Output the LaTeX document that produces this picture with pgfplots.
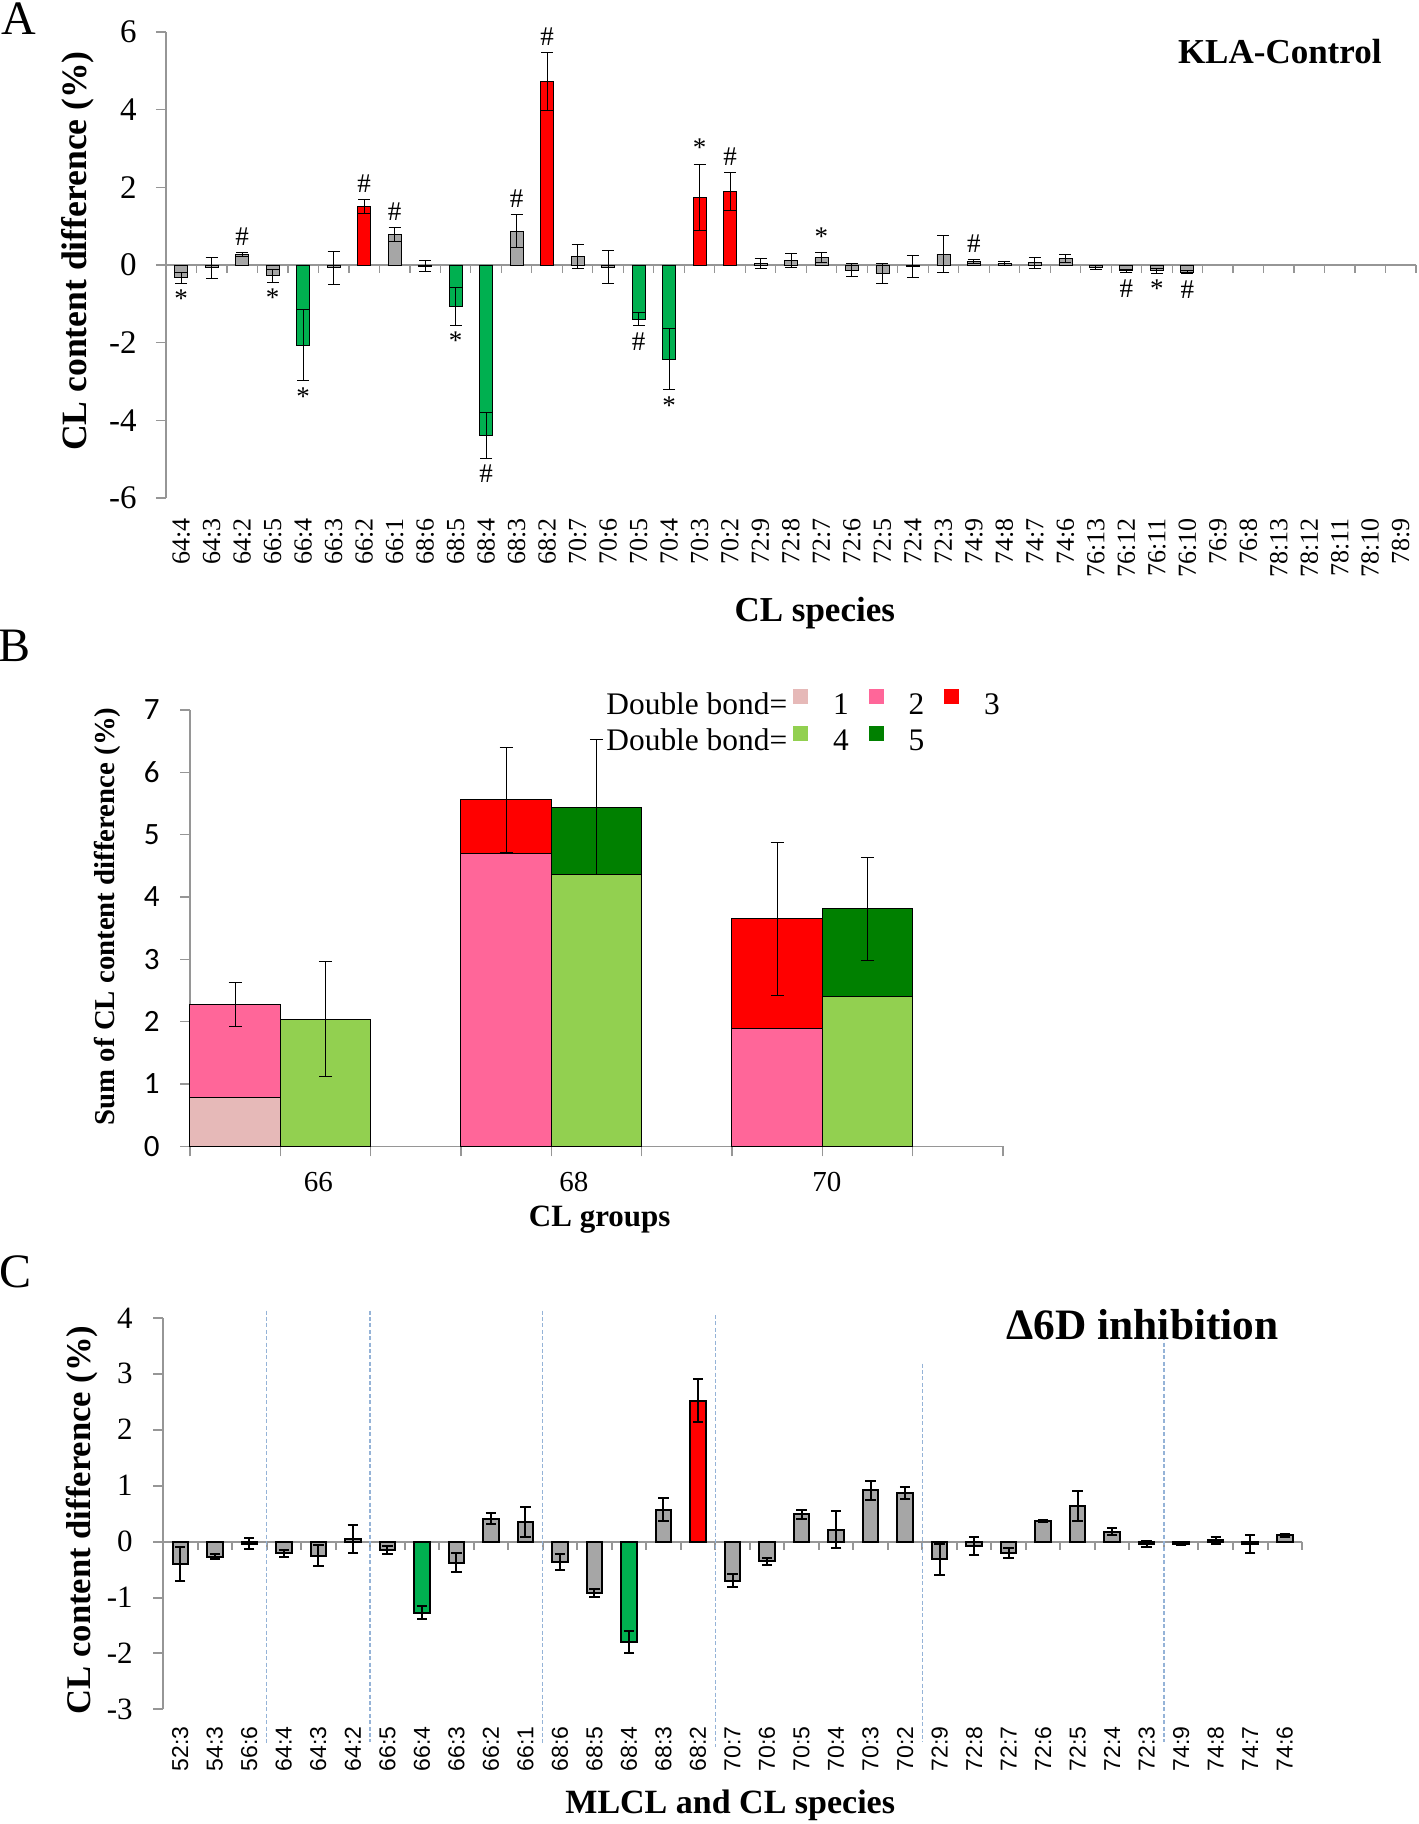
\documentclass[border=0pt]{standalone}
\usepackage{pgfplots}
\usepackage{pgfplotstable}
\pgfplotsset{compat=1.18}
\usepackage{fontspec}
\setmainfont{Liberation Serif}
\newfontfamily\calibri{Carlito}
\newfontfamily\arialf{Liberation Sans}
\definecolor{axgray}{RGB}{150,150,150}
\definecolor{bgray}{RGB}{166,166,166}
\definecolor{bgreen}{RGB}{0,176,80}
\definecolor{bred}{RGB}{255,0,0}
\definecolor{dbone}{RGB}{230,185,184}
\definecolor{dbtwo}{RGB}{255,102,153}
\definecolor{dbthree}{RGB}{255,0,0}
\definecolor{dbfour}{RGB}{146,208,80}
\definecolor{dbfive}{RGB}{0,128,0}
\definecolor{sepblue}{RGB}{149,179,215}
\newcommand{\fs}[1]{\fontsize{#1}{#1}\selectfont}

% ---------- Panel A data ----------
\pgfplotstableread{
x y e
0 -0.33 0.14
1 -0.07 0.27
2 0.28 0.05
3 -0.28 0.16
5 -0.07 0.42
7 0.79 0.18
8 -0.03 0.15
11 0.87 0.42
13 0.22 0.30
14 -0.05 0.43
19 0.04 0.13
20 0.11 0.18
21 0.19 0.13
22 -0.13 0.17
23 -0.21 0.26
24 -0.04 0.29
25 0.28 0.48
26 0.10 0.05
27 0.04 0.06
28 0.06 0.14
29 0.17 0.11
30 -0.07 0.05
31 -0.15 0.04
32 -0.15 0.06
33 -0.18 0.04
}\Agray
\pgfplotstableread{
x y e
4 -2.06 0.92
9 -1.07 0.48
10 -4.38 0.59
15 -1.40 0.17
16 -2.42 0.78
}\Agreen
\pgfplotstableread{
x y e
6 1.50 0.18
12 4.72 0.75
17 1.75 0.85
18 1.89 0.48
}\Ared
\pgfplotstableread{
x y t
2 0.33 \#
6 1.68 \#
7 0.97 \#
11 1.29 \#
12 5.47 \#
17 2.60 *
18 2.37 \#
21 0.32 *
26 0.15 \#
}\Aabove
\pgfplotstableread{
x y t
0 -0.47 *
3 -0.44 *
4 -2.98 *
9 -1.55 *
10 -4.97 \#
15 -1.57 \#
16 -3.20 *
31 -0.19 \#
32 -0.21 *
33 -0.22 \#
}\Abelow

% ---------- Panel C data ----------
\pgfplotstableread{
x y e
0 -0.40 0.30
1 -0.27 0.05
2 -0.04 0.10
3 -0.21 0.06
4 -0.25 0.19
5 0.04 0.25
6 -0.15 0.08
8 -0.38 0.17
9 0.41 0.10
10 0.35 0.27
11 -0.36 0.14
12 -0.92 0.07
14 0.57 0.21
16 -0.70 0.12
17 -0.35 0.06
18 0.49 0.08
19 0.21 0.33
20 0.92 0.17
21 0.87 0.10
22 -0.32 0.28
23 -0.08 0.16
24 -0.21 0.09
25 0.37 0.02
26 0.64 0.27
27 0.18 0.06
28 -0.04 0.05
29 -0.04 0.02
30 0.02 0.07
31 -0.04 0.16
32 0.11 0.03
}\Cgray
\pgfplotstableread{
x y e
7 -1.27 0.12
13 -1.80 0.20
}\Cgreen
\pgfplotstableread{
x y e
15 2.52 0.38
}\Cred

\begin{document}
\begin{tikzpicture}
\path[use as bounding box] (0pt,0pt) rectangle (709pt,-912pt);

\node[font=\fs{24}] at (9.25pt,-9.25pt) {A};
\node[font=\fs{24}] at (7.25pt,-323pt) {B};
\node[font=\fs{24}] at (8pt,-635.75pt) {C};

% ================= Panel A =================
\begin{axis}[
  at={(83pt,-249pt)}, anchor=south west,
  scale only axis, width=625pt, height=233pt,
  clip=false,
  xmin=-0.5, xmax=40.5, ymin=-6, ymax=6,
  axis y line*=left, axis x line*=bottom,
  x axis line style={draw=none},
  y axis line style={axgray, line width=0.6pt},
  tick align=outside, major tick length=5pt,
  ytick={-6,-4,...,6}, yticklabels={-6,-4,-2,0,2,4,6},
  ytick style={axgray, line width=0.6pt},
  xtick={0,...,40},
  xticklabels={64:4,64:3,64:2,66:5,66:4,66:3,66:2,66:1,68:6,68:5,68:4,68:3,68:2,70:7,70:6,70:5,70:4,70:3,70:2,72:9,72:8,72:7,72:6,72:5,72:4,72:3,74:9,74:8,74:7,74:6,76:13,76:12,76:11,76:10,76:9,76:8,78:13,78:12,78:11,78:10,78:9},
  xtick style={draw=none},
  yticklabel style={font=\fs{16.5}, inner sep=0pt},
  yticklabel shift=9.5pt,
  xticklabel style={font=\fs{13}, rotate=90, anchor=east, inner sep=0pt},
  xticklabel shift=5pt,
  ylabel={CL content difference (\%)},
  ylabel style={at={(axis description cs:-0.0704,0.53)}, anchor=center, font=\bfseries\fs{17.8}},
  xlabel={CL species},
  xlabel style={at={(axis description cs:0.519,-0.2468)}, anchor=center, font=\bfseries\fs{17.5}},
  title={KLA-Control},
  every axis title/.style={at={(axis description cs:0.891,0.959)}, anchor=center, font=\bfseries\fs{17.5}},
]
\draw[axgray, line width=0.6pt] (axis cs:-0.5,0) -- (axis cs:40.5,0);
\pgfplotsinvokeforeach{0.5,1.5,...,40.5}{\draw[axgray, line width=0.6pt] (axis cs:#1,0) -- ++(0pt,-4pt);}
\pgfplotsset{aerr/.style={error bars/.cd, y dir=both, y explicit,
   error bar style={black, line width=0.5pt},
   error mark options={black, rotate=90, mark size=3pt, line width=0.5pt}}}
\addplot[ybar, bar width=6.5pt, bar shift=0pt, fill=bgray, draw=black, line width=0.4pt, aerr]
  table[x=x, y=y, y error=e] {\Agray};
\addplot[ybar, bar width=6.5pt, bar shift=0pt, fill=bgreen, draw=black, line width=0.4pt, aerr]
  table[x=x, y=y, y error=e] {\Agreen};
\addplot[ybar, bar width=6.5pt, bar shift=0pt, fill=bred, draw=black, line width=0.4pt, aerr]
  table[x=x, y=y, y error=e] {\Ared};
\addplot[only marks, mark=*, mark size=0pt, mark options={draw=none, fill=none},
  nodes near coords, point meta=explicit symbolic,
  every node near coord/.append style={anchor=south, font=\fs{13.5}}]
  table[x=x, y=y, meta=t] {\Aabove};
\addplot[only marks, mark=*, mark size=0pt, mark options={draw=none, fill=none},
  nodes near coords, point meta=explicit symbolic,
  every node near coord/.append style={anchor=north, font=\fs{13.5}}]
  table[x=x, y=y, meta=t] {\Abelow};
\end{axis}

% ================= Panel B =================
\begin{axis}[
  at={(95pt,-573.15pt)}, anchor=south west,
  scale only axis, width=406.5pt, height=218.15pt,
  clip=false,
  xmin=0, xmax=9, ymin=0, ymax=7,
  axis y line*=left, axis x line*=bottom,
  axis line style={axgray, line width=0.6pt},
  tick align=outside, major tick length=5pt,
  tick style={axgray, line width=0.6pt},
  ytick={0,...,7}, yticklabels={0,1,2,3,4,5,6,7},
  xtick={0,...,9}, xticklabels={},
  extra x ticks={1.42,4.25,7.05}, extra x tick labels={66,68,70},
  extra x tick style={tick style={draw=none}},
  yticklabel style={font=\calibri\fs{15.5}, inner sep=0pt},
  yticklabel shift=10pt,
  xticklabel style={font=\fs{14.5}, inner sep=0pt},
  xticklabel shift=8pt,
  ylabel={Sum of CL content difference (\%)},
  ylabel style={at={(axis description cs:-0.101,0.527)}, anchor=center, font=\bfseries\fs{14.4}},
  xlabel={CL groups},
  xlabel style={at={(axis description cs:0.504,-0.167)}, anchor=center, font=\bfseries\fs{15.5}},
  legend columns=4,
  legend style={at={(axis description cs:0.481,1.05)}, anchor=north west, draw=none, fill=none,
    inner sep=0pt, font=\fs{15.7}, row sep=5.75pt,
    nodes={inner sep=0pt, text height=11pt, text depth=0pt},
    /tikz/every odd column/.append style={column sep=12.5pt},
    /tikz/every even column/.append style={column sep=10pt}},
]
\addplot[ybar, bar width=45.17pt, bar shift=0pt, fill=dbthree, draw=black, line width=0.5pt, forget plot]
  coordinates {(3.5,5.56) (6.5,3.65)};
\addplot[ybar, bar width=45.17pt, bar shift=0pt, fill=dbtwo, draw=black, line width=0.5pt, forget plot]
  coordinates {(0.5,2.28) (3.5,4.69) (6.5,1.89)};
\addplot[ybar, bar width=45.17pt, bar shift=0pt, fill=dbone, draw=black, line width=0.5pt, forget plot]
  coordinates {(0.5,0.79)};
\addplot[ybar, bar width=45.17pt, bar shift=0pt, fill=dbfive, draw=black, line width=0.5pt, forget plot]
  coordinates {(4.5,5.44) (7.5,3.81)};
\addplot[ybar, bar width=45.17pt, bar shift=0pt, fill=dbfour, draw=black, line width=0.5pt, forget plot]
  coordinates {(1.5,2.04) (4.5,4.36) (7.5,2.41)};
\addplot[draw=none, mark=none, forget plot,
  error bars/.cd, y dir=both, y explicit,
  error bar style={draw=black, line width=0.5pt},
  error mark options={draw=black, rotate=90, mark size=3.3pt, line width=0.5pt}]
  coordinates {(0.5,2.28) +- (0,0.35) (1.5,2.04) +- (0,0.92) (3.5,5.56) +- (0,0.84)
               (4.5,5.44) +- (0,1.08) (6.5,3.65) +- (0,1.23) (7.5,3.81) +- (0,0.83)};
\addlegendimage{empty legend}\addlegendentry{Double bond=\hspace*{-7pt}}
\addlegendimage{legend image code/.code={\fill[dbone] (0pt,0pt) rectangle (7pt,7pt);}}\addlegendentry{1}
\addlegendimage{legend image code/.code={\fill[dbtwo] (0pt,0pt) rectangle (7pt,7pt);}}\addlegendentry{2}
\addlegendimage{legend image code/.code={\fill[dbthree] (0pt,0pt) rectangle (7pt,7pt);}}\addlegendentry{3}
\addlegendimage{empty legend}\addlegendentry{Double bond=\hspace*{-7pt}}
\addlegendimage{legend image code/.code={\fill[dbfour] (0pt,0pt) rectangle (7pt,7pt);}}\addlegendentry{4}
\addlegendimage{legend image code/.code={\fill[dbfive] (0pt,0pt) rectangle (7pt,7pt);}}\addlegendentry{5}
\end{axis}

% ================= Panel C =================
\begin{axis}[
  at={(81.5pt,-854.7pt)}, anchor=south west,
  scale only axis, width=569.5pt, height=195.8pt,
  clip=false,
  xmin=-0.5, xmax=32.5, ymin=-3, ymax=4,
  axis y line*=left, axis x line*=bottom,
  x axis line style={draw=none},
  y axis line style={axgray, line width=1pt},
  tick align=outside, major tick length=5pt,
  ytick={-3,...,4}, yticklabels={-3,-2,-1,0,1,2,3,4},
  ytick style={axgray, line width=1pt},
  xtick={0,...,32},
  xticklabels={52:3,54:3,56:6,64:4,64:3,64:2,66:5,66:4,66:3,66:2,66:1,68:6,68:5,68:4,68:3,68:2,70:7,70:6,70:5,70:4,70:3,70:2,72:9,72:8,72:7,72:6,72:5,72:4,72:3,74:9,74:8,74:7,74:6},
  xtick style={draw=none},
  yticklabel style={font=\fs{15.5}, inner sep=0pt},
  yticklabel shift=10pt,
  xticklabel style={font=\arialf\fs{11.5}, rotate=90, anchor=east, inner sep=0pt},
  xticklabel shift=3.3pt,
  ylabel={CL content difference (\%)},
  ylabel style={at={(axis description cs:-0.0711,0.484)}, anchor=center, font=\bfseries\fs{17.3}},
  xlabel={MLCL and CL species},
  xlabel style={at={(axis description cs:0.498,-0.244)}, anchor=center, font=\bfseries\fs{17}},
  title={Δ6D inhibition},
  every axis title/.style={at={(axis description cs:0.86,0.982)}, anchor=center, font=\bfseries\fs{21.7}},
]
\draw[axgray, line width=1pt] (axis cs:-0.5,0) -- (axis cs:32.5,0);
\pgfplotsinvokeforeach{0.5,1.5,...,32.5}{\draw[axgray, line width=1pt] (axis cs:#1,0) -- ++(0pt,-4pt);}
\draw[sepblue, line width=0.6pt, dash pattern=on 2pt off 1.2pt] (axis cs:2.5,4.13) -- (axis cs:2.5,-3.61);
\draw[sepblue, line width=0.6pt, dash pattern=on 2pt off 1.2pt] (axis cs:5.5,4.13) -- (axis cs:5.5,-3.58);
\draw[sepblue, line width=0.6pt, dash pattern=on 2pt off 1.2pt] (axis cs:10.5,4.13) -- (axis cs:10.5,-3.6);
\draw[sepblue, line width=0.6pt, dash pattern=on 2pt off 1.2pt] (axis cs:15.5,4.05) -- (axis cs:15.5,-3.67);
\draw[sepblue, line width=0.6pt, dash pattern=on 2pt off 1.2pt] (axis cs:21.5,3.18) -- (axis cs:21.5,-3.58);
\draw[sepblue, line width=0.6pt, dash pattern=on 2pt off 1.2pt] (axis cs:28.5,3.67) -- (axis cs:28.5,-3.58);
\pgfplotsset{cerr/.style={error bars/.cd, y dir=both, y explicit,
   error bar style={black, line width=1pt},
   error mark options={black, rotate=90, mark size=2.6pt, line width=1pt}}}
\addplot[ybar, bar width=7.75pt, bar shift=0pt, fill=bgray, draw=black, line width=1pt, cerr]
  table[x=x, y=y, y error=e] {\Cgray};
\addplot[ybar, bar width=7.75pt, bar shift=0pt, fill=bgreen, draw=black, line width=1pt, cerr]
  table[x=x, y=y, y error=e] {\Cgreen};
\addplot[ybar, bar width=7.75pt, bar shift=0pt, fill=bred, draw=black, line width=1pt, cerr]
  table[x=x, y=y, y error=e] {\Cred};
\end{axis}
\end{tikzpicture}
\end{document}
